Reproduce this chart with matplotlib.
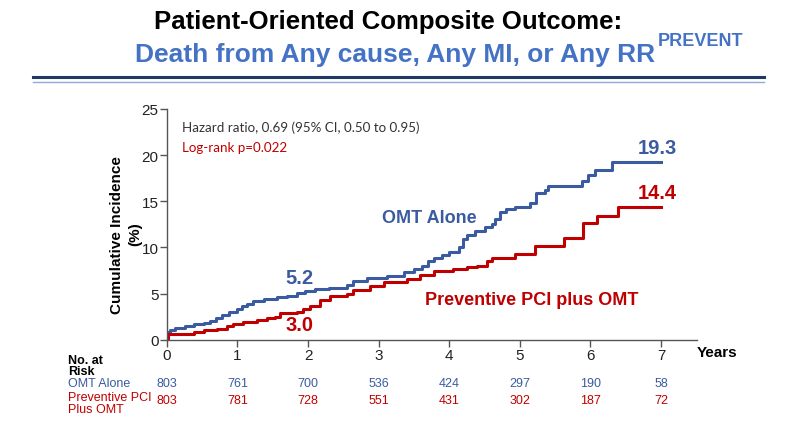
"""PREVENT trial: patient-oriented composite outcome, cumulative incidence."""
import matplotlib
matplotlib.use('Agg')
import matplotlib.pyplot as plt
from matplotlib.lines import Line2D
from matplotlib.transforms import blended_transform_factory

# data
omt_t = [0, 0.01, 0.05, 0.12, 0.25, 0.38, 0.52, 0.61, 0.70, 0.78, 0.88, 0.99,
         1.06, 1.13, 1.22, 1.37, 1.56, 1.70, 1.84, 1.95, 2.10, 2.30, 2.55,
         2.64, 2.83, 3.12, 3.36, 3.50, 3.61, 3.70, 3.79, 3.90, 4.00, 4.14,
         4.20, 4.25, 4.36, 4.50, 4.60, 4.65, 4.72, 4.81, 4.93, 5.14, 5.23,
         5.36, 5.40, 5.88, 5.97, 6.06, 6.30, 7.0]
omt_v = [0, 0.8, 1.1, 1.3, 1.5, 1.65, 1.8, 2.05, 2.4, 2.7, 2.95, 3.3,
         3.6, 3.9, 4.2, 4.4, 4.6, 4.75, 5.1, 5.3, 5.45, 5.65, 5.9,
         6.4, 6.7, 6.95, 7.3, 7.65, 8.0, 8.5, 8.9, 9.15, 9.45, 10.0,
         10.9, 11.4, 11.8, 12.2, 12.5, 13.1, 13.8, 14.15, 14.4, 14.8, 15.9,
         16.2, 16.7, 17.2, 17.8, 18.4, 19.3, 19.3]

pci_t = [0, 0.01, 0.33, 0.38, 0.52, 0.71, 0.85, 0.94, 1.08, 1.27, 1.42, 1.53,
         1.60, 1.84, 1.93, 2.03, 2.17, 2.31, 2.55, 2.64, 2.88, 3.07, 3.40,
         3.59, 3.78, 4.06, 4.25, 4.39, 4.53, 4.60, 4.93, 5.21, 5.62, 5.90,
         6.09, 6.39, 7.0]
pci_v = [0, 0.6, 0.6, 0.87, 1.08, 1.2, 1.5, 1.7, 1.95, 2.15, 2.3, 2.5,
         2.9, 3.0, 3.3, 3.7, 4.3, 4.7, 4.97, 5.4, 5.8, 6.2, 6.6,
         6.98, 7.4, 7.7, 7.85, 8.03, 8.57, 8.8, 9.28, 10.1, 10.97, 12.7,
         13.4, 14.4, 14.4]

years = [0, 1, 2, 3, 4, 5, 6, 7]
risk_omt = [803, 761, 700, 536, 424, 297, 190, 58]
risk_pci = [803, 781, 728, 551, 431, 302, 187, 72]

blue = '#3b5ba0'
red = '#c00000'
title_blue = '#4472c4'
W, H = 785, 435

plt.rcParams['font.family'] = ['Liberation Sans', 'DejaVu Sans']

fig = plt.figure(figsize=(W / 100, H / 100), dpi=100)


def fx(px):
    return px / W


def fy(py):
    return 1 - py / H


# header
fig.text(fx(388), fy(22), 'Patient-Oriented Composite Outcome:', ha='center',
         va='center', fontsize=18.5, weight='bold', color='black')
fig.text(fx(395), fy(55), 'Death from Any cause, Any MI, or Any RR',
         ha='center', va='center', fontsize=19, weight='bold',
         color=title_blue)
fig.text(fx(701), fy(41), 'PREVENT', ha='center', va='center', fontsize=13,
         weight='bold', color=title_blue,
         family=['Liberation Sans Narrow', 'DejaVu Sans Condensed',
                 'Liberation Sans'])
fig.add_artist(Line2D([fx(33), fx(764)], [fy(78), fy(78)], color='#1f3864',
                      lw=2.2))
fig.add_artist(Line2D([fx(33), fx(764)], [fy(82.5), fy(82.5)],
                      color='#8eaadb', lw=1.0))

# plot
ax = fig.add_axes([fx(166.9), fy(340.7), fx(697) - fx(166.9),
                   fy(110) - fy(340.7)])
ax.plot(omt_t, omt_v, drawstyle='steps-post', color=blue, lw=2.2)
ax.plot(pci_t, pci_v, drawstyle='steps-post', color=red, lw=2.2)

ax.set_xlim(0, 7.51)
ax.set_ylim(0, 25)
ax.set_xticks(years)
ax.set_yticks([0, 5, 10, 15, 20, 25])
ax.spines['top'].set_visible(False)
ax.spines['right'].set_visible(False)
for s in ('left', 'bottom'):
    ax.spines[s].set_color('#555555')
    ax.spines[s].set_linewidth(1.0)
ax.tick_params(axis='both', direction='out', length=5, width=1,
               color='#555555', labelsize=11, labelcolor='#222222', pad=1)
ax.set_ylabel('Cumulative Incidence\n(%)', fontsize=11, weight='bold',
              linespacing=1.35)
ax.yaxis.set_label_coords(-0.047, 0.46)

# annotations
ax.text(0.22, 23.05, 'Hazard ratio, 0.69 (95% CI, 0.50 to 0.95)',
        fontsize=9.6, color='#333333', family=['Lato', 'DejaVu Sans'],
        va='center')
ax.text(0.22, 20.9, 'Log-rank p=0.022', fontsize=9.6, color=red,
        family=['Lato', 'DejaVu Sans'], va='center')
ax.text(3.05, 13.25, 'OMT Alone', fontsize=13, weight='bold', color=blue,
        va='center')
ax.text(3.66, 4.33, 'Preventive PCI plus OMT', fontsize=13, weight='bold',
        color=red, va='center')
ax.text(1.68, 6.75, '5.2', fontsize=14.5, weight='bold', color=blue,
        va='center')
ax.text(1.68, 1.65, '3.0', fontsize=14.5, weight='bold', color=red,
        va='center')
ax.text(7.22, 20.8, '19.3', fontsize=14.5, weight='bold', color=blue,
        va='center', ha='right')
ax.text(7.22, 15.9, '14.4', fontsize=14.5, weight='bold', color=red,
        va='center', ha='right')
fig.text(fx(697), fy(353), 'Years', fontsize=11, weight='bold', va='center')

# number at risk
tr = blended_transform_factory(ax.transData, fig.transFigure)
fig.text(fx(68), fy(361), 'No. at', fontsize=9, weight='bold', va='center')
fig.text(fx(68), fy(372), 'Risk', fontsize=9, weight='bold', va='center')
fig.text(fx(68), fy(384), 'OMT Alone', fontsize=9, color=blue, va='center')
fig.text(fx(68), fy(398), 'Preventive PCI', fontsize=9, color=red,
         va='center')
fig.text(fx(68), fy(410), 'Plus OMT', fontsize=9, color=red, va='center')
for x, a, b in zip(years, risk_omt, risk_pci):
    ax.text(x, fy(384), str(a), transform=tr, ha='center', va='center',
            fontsize=9, color=blue)
    ax.text(x, fy(401), str(b), transform=tr, ha='center', va='center',
            fontsize=9, color=red)

fig.savefig('out.png', dpi=100)
